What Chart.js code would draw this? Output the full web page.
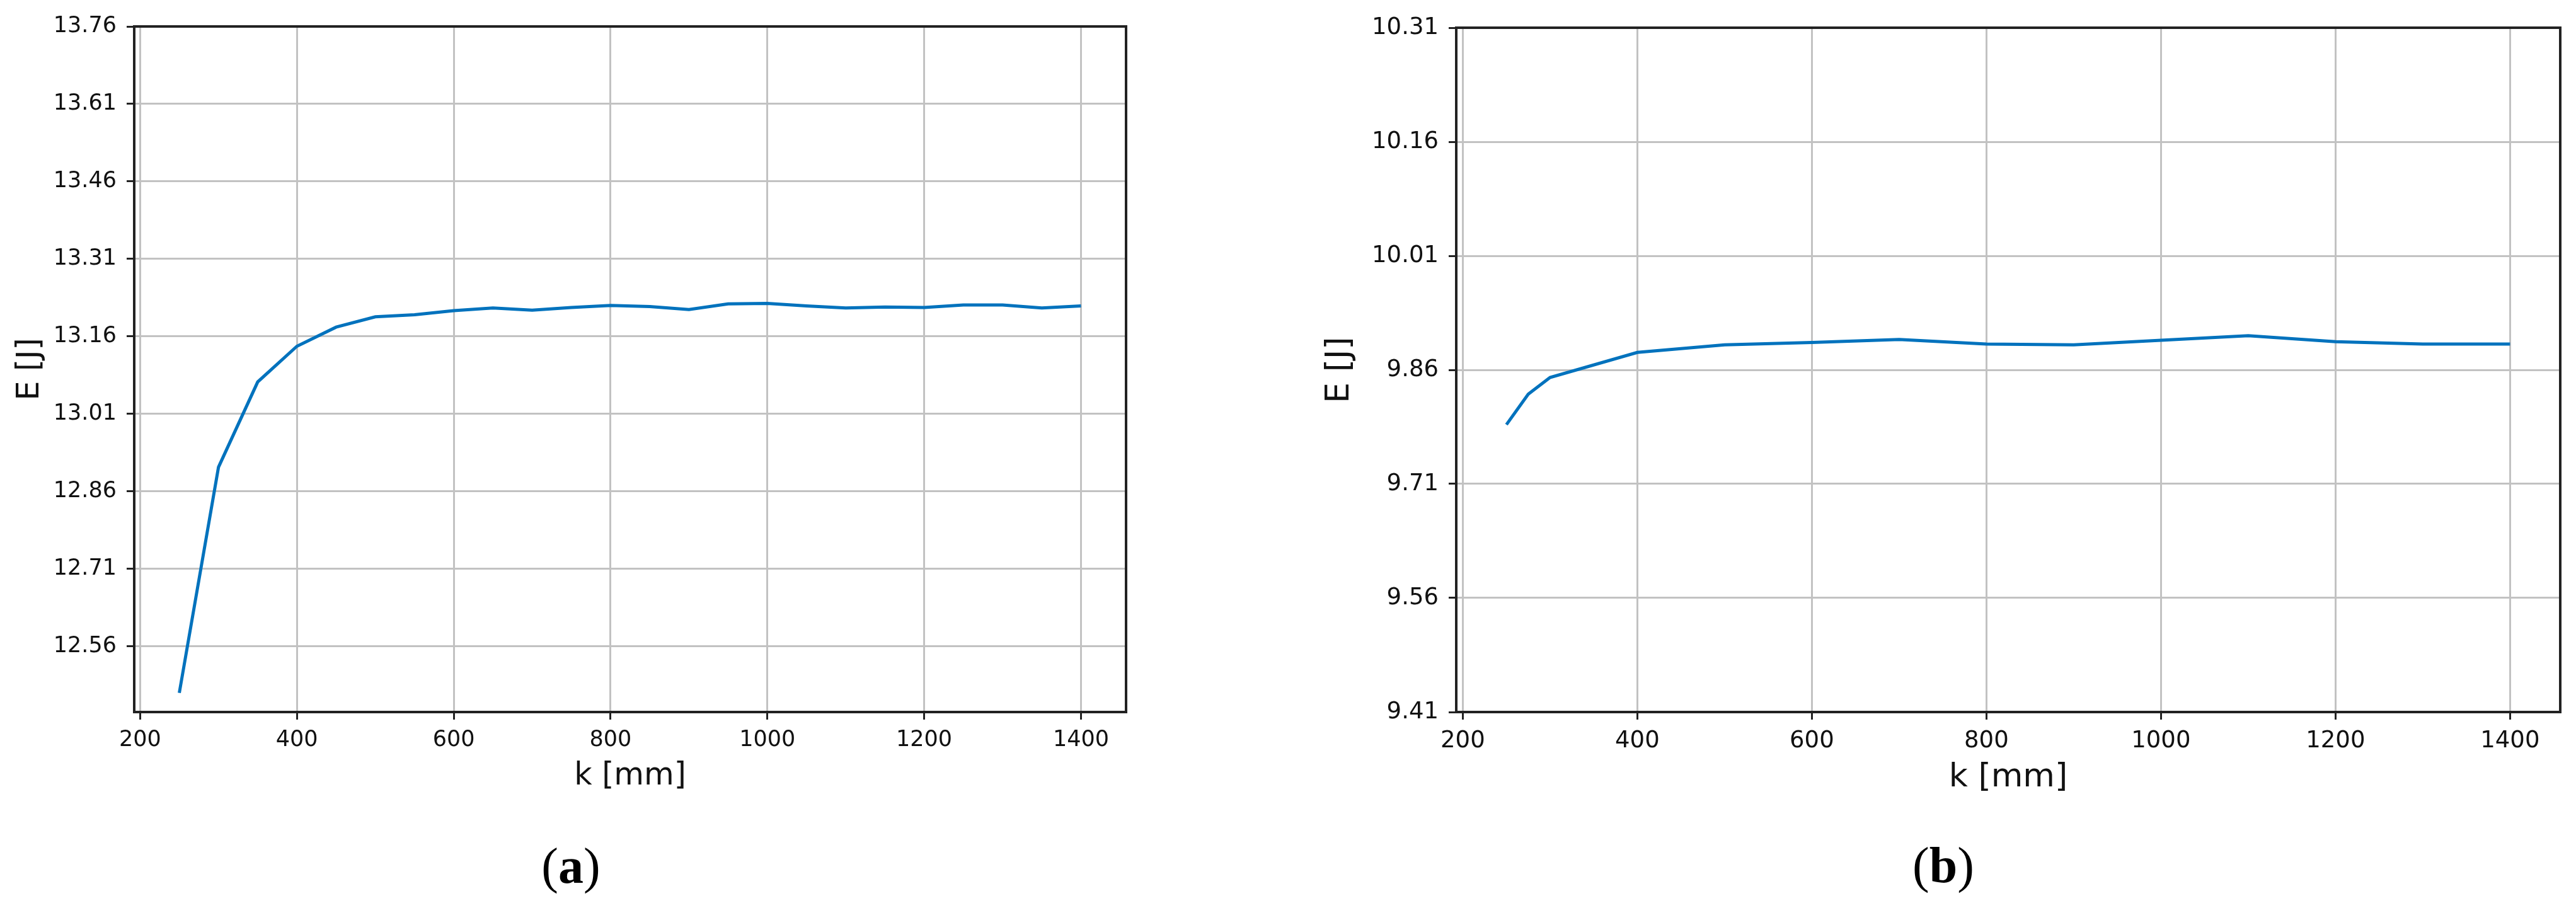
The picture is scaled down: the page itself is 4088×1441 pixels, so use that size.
<!DOCTYPE html>
<html>
<head>
<meta charset="utf-8">
<script src="https://cdn.jsdelivr.net/npm/chart.js@4.4.1/dist/chart.umd.min.js"></script>
<style>
  body { margin: 0; background: #fff; width: 4088px; height: 1441px; position: relative; overflow: hidden; }
  canvas { position: absolute; top: 0; }
  .cap { position: absolute; width: 400px; text-align: center; font-family: 'Liberation Serif', serif; font-size: 80px; line-height: 80px; color: #000; }
</style>
</head>
<body>
<canvas id="chartA" width="2044" height="1441" style="left:0"></canvas>
<canvas id="chartB" width="2044" height="1441" style="left:2044px"></canvas>
<div class="cap" style="left:706px; top:1334px">(<b>a</b>)</div>
<div class="cap" style="left:2884px; top:1333px">(<b>b</b>)</div>
<script>
// (a) energy vs k
const kA = [250, 300, 350, 400, 450, 500, 550, 600, 650, 700, 750, 800,
            850, 900, 950, 1000, 1050, 1100, 1150, 1200, 1250, 1300, 1350, 1400];
const eA = [12.470, 12.907, 13.072, 13.141, 13.178, 13.198, 13.202, 13.210,
            13.215, 13.211, 13.216, 13.220, 13.218, 13.212, 13.223, 13.224,
            13.219, 13.215, 13.217, 13.216, 13.221, 13.221, 13.215, 13.219];
const yTicksA = [12.56, 12.71, 12.86, 13.01, 13.16, 13.31, 13.46, 13.61, 13.76];

// (b) energy vs k
const kB = [250, 275, 300, 400, 500, 600, 700, 800, 900, 1000, 1100, 1200, 1300, 1400];
const eB = [9.788, 9.828, 9.850, 9.883, 9.893, 9.896, 9.900, 9.894, 9.893,
            9.899, 9.905, 9.897, 9.894, 9.894];
const yTicksB = [9.41, 9.56, 9.71, 9.86, 10.01, 10.16, 10.31];

const xTicks = [200, 400, 600, 800, 1000, 1200, 1400];

const LINE = 'rgb(0, 114, 189)';
const AXIS = '#222';
const GRID = '#c2c2c2';

// top and right spines
const frame = {
  id: 'frame',
  afterDatasetsDraw(chart) {
    const { ctx, chartArea: a } = chart;
    ctx.save();
    ctx.strokeStyle = AXIS;
    ctx.lineWidth = 4;
    ctx.beginPath();
    ctx.moveTo(a.left, a.top);
    ctx.lineTo(a.right, a.top);
    ctx.lineTo(a.right, a.bottom);
    ctx.stroke();
    ctx.restore();
  }
};

function makeChart(id, ks, es, yTicks, cfg) {
  const ctx = document.getElementById(id).getContext('2d');
  return new Chart(ctx, {
    type: 'line',
    data: {
      datasets: [{
        data: ks.map((k, i) => ({ x: k, y: es[i] })),
        borderColor: LINE,
        borderWidth: 5,
        pointRadius: 0,
        tension: 0,
        fill: false
      }]
    },
    options: {
      responsive: false,
      animation: false,
      devicePixelRatio: 1,
      layout: { padding: cfg.padding },
      plugins: { legend: { display: false }, tooltip: { enabled: false } },
      scales: {
        x: {
          type: 'linear',
          min: 192.5,
          max: 1457.5,
          afterBuildTicks: s => { s.ticks = xTicks.map(v => ({ value: v })); },
          afterFit: s => { s.height = 170; },
          grid: { color: GRID, lineWidth: 3, tickLength: 12, tickColor: AXIS, tickWidth: 3 },
          border: { display: true, color: AXIS, width: 4 },
          ticks: {
            autoSkip: false, maxRotation: 0, padding: 12, color: '#111',
            font: { family: 'DejaVu Sans', size: cfg.tickSize },
            callback: v => String(v)
          },
          title: {
            display: true, text: 'k [mm]', color: '#111',
            font: { family: 'DejaVu Sans', size: cfg.titleSize },
            padding: { top: 0, bottom: cfg.xTitlePad }
          }
        },
        y: {
          type: 'linear',
          min: cfg.yMin,
          max: cfg.yMax,
          afterBuildTicks: s => { s.ticks = yTicks.map(v => ({ value: v })); },
          afterFit: s => { s.width = cfg.yWidth; },
          grid: { color: GRID, lineWidth: 3, tickLength: 12, tickColor: AXIS, tickWidth: 3 },
          border: { display: true, color: AXIS, width: 4 },
          ticks: {
            padding: 16, color: '#111',
            font: { family: 'DejaVu Sans', size: cfg.tickSize },
            callback: v => Number(v).toFixed(2)
          },
          title: {
            display: true, text: 'E [J]', color: '#111',
            font: { family: 'DejaVu Sans', size: cfg.titleSize },
            padding: { top: cfg.yTitlePad, bottom: 0 }
          }
        }
      }
    },
    plugins: [frame]
  });
}

makeChart('chartA', kA, eA, yTicksA, {
  padding: { left: 0, top: 42, right: 257, bottom: 141 },
  yMin: 12.433, yMax: 13.76, yWidth: 213,
  tickSize: 35, titleSize: 49, xTitlePad: 38, yTitlePad: 19
});

makeChart('chartB', kB, eB, yTicksB, {
  padding: { left: 0, top: 44, right: 25, bottom: 141 },
  yMin: 9.41, yMax: 10.31, yWidth: 267,
  tickSize: 37, titleSize: 52, xTitlePad: 34, yTitlePad: 51
});
</script>
</body>
</html>
